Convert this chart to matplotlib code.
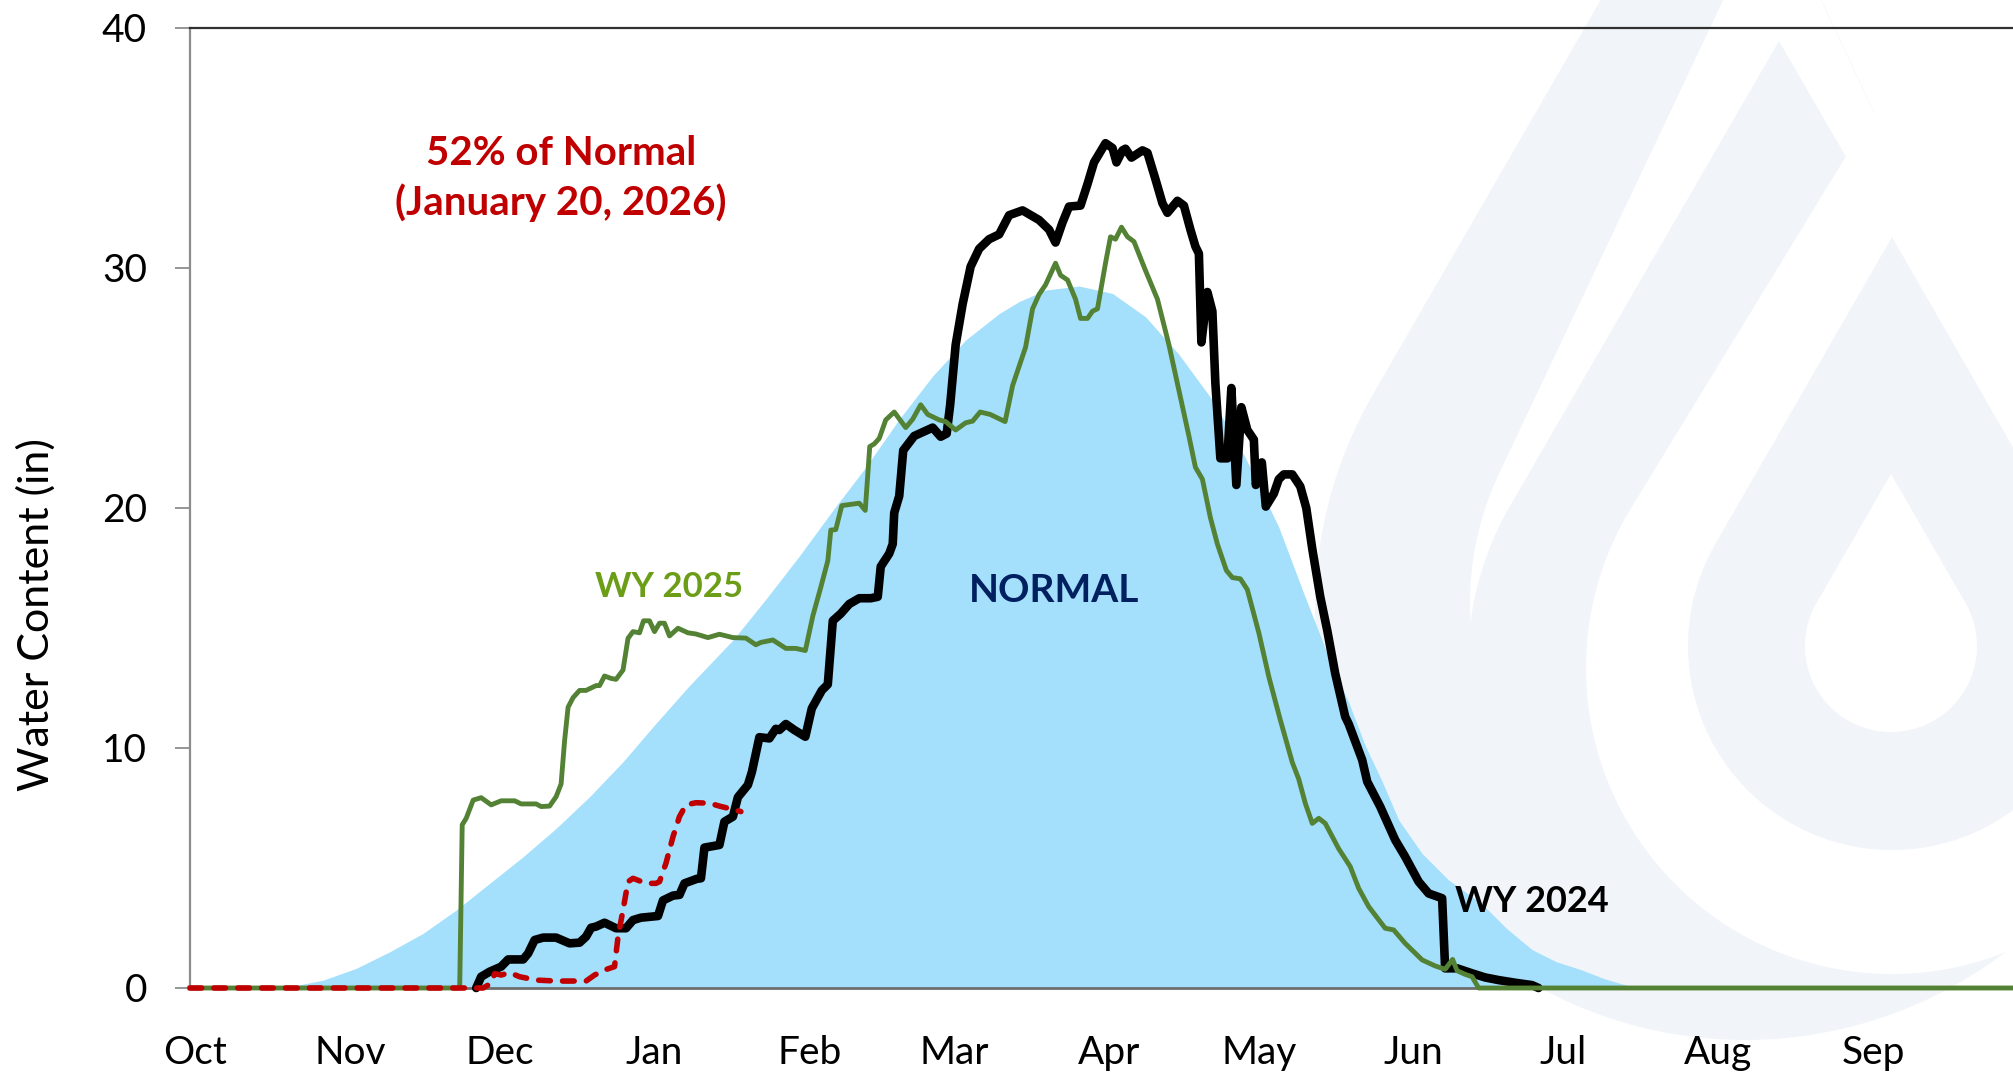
import numpy as np
import matplotlib
matplotlib.use("Agg")
import matplotlib.pyplot as plt
from matplotlib.patches import Polygon

# ---------------- data (x = day of water year, 0 = Oct 1) ----------------
month_labels = ["Oct", "Nov", "Dec", "Jan", "Feb", "Mar", "Apr", "May", "Jun", "Jul", "Aug", "Sep"]
month_lengths = [31, 30, 31, 31, 29, 31, 30, 31, 30, 31, 31, 30]
y_ticks = [0, 10, 20, 30, 40]

normal_day = [0, 15, 20, 26.7, 33.3, 40, 46.7, 53.3, 60, 66.7, 73.3, 80, 86.7, 93.3, 100,
              108.7, 115.3, 122, 128.7, 135.3, 142, 148.7, 155.3, 162, 166, 171.3, 178,
              184.7, 191.3, 198, 204.7, 211.3, 218, 222.7, 228.7, 232, 235.3, 238.7, 242,
              246.7, 252, 258.7, 263.5, 268.7, 273.5, 278.7, 283, 286.7, 290]
normal_swe = [0, 0, 0.05, 0.33, 0.82, 1.51, 2.28, 3.25, 4.36, 5.47, 6.65, 7.97, 9.43, 11.03, 12.6,
              14.5, 16.2, 18.0, 19.9, 21.7, 23.7, 25.5, 27.0, 28.1, 28.6, 29.08, 29.25,
              28.94, 27.97, 26.4, 24.5, 22.1, 19.2, 16.6, 13.4, 11.9, 10.1, 8.6, 7.0,
              5.6, 4.5, 3.5, 2.5, 1.6, 1.1, 0.75, 0.4, 0.17, 0]

wy2024_day = [57.3, 58.3, 60, 62.3, 63.7, 66.7, 67.7, 69, 70.7, 73.3, 76, 78, 79.3, 80.3, 81.3,
              83, 85.3, 87.3, 88.7, 90.3, 93.7, 94.7, 96.7, 98, 99, 101.5, 102.3, 103, 106,
              107, 108.7, 109.7, 111.7, 112.5, 114, 116, 117.3, 118, 119.3, 121, 123.2, 124.5,
              126.5, 127.7, 128.7, 130.3, 132, 134, 136.3, 137.7, 138.3, 140, 140.7, 141, 142,
              142.8, 145, 148.7, 150.3, 151.5, 152.2, 153.3, 154.7, 156.3, 158, 160, 162, 164,
              166.7, 170, 172, 173.3, 174.7, 176, 178.3, 179.7, 181, 183.3, 184.7, 185.5,
              186.7, 187.3, 188.5, 190.7, 191.7, 193.3, 194.7, 195.7, 197.7, 199, 200.3, 201.3,
              202, 202.5, 203.7, 204.7, 205.3, 206.3, 207.7, 208.5, 209.5, 210.5, 211.7, 213,
              213.4, 214.6, 215.4, 217, 218, 219, 220.7, 222.3, 223.5, 224.7, 226.3, 227.7,
              229.3, 231.3, 232, 234.7, 235.7, 238.3, 241.3, 243.3, 246, 248, 250.7, 251.3,
              253.7, 256.7, 259.3, 262, 265.3, 268.7, 270]
wy2024_swe = [0, 0.47, 0.68, 0.89, 1.19, 1.19, 1.44, 2.0, 2.1, 2.1, 1.86, 1.89, 2.14, 2.51, 2.56,
              2.72, 2.49, 2.49, 2.83, 2.93, 3.0, 3.65, 3.85, 3.88, 4.36, 4.55, 4.57, 5.85, 5.96,
              6.93, 7.14, 7.95, 8.46, 9.0, 10.45, 10.4, 10.8, 10.75, 11.0, 10.75, 10.47, 11.65,
              12.4, 12.65, 15.3, 15.6, 16.0, 16.24, 16.24, 16.3, 17.56, 18.1, 18.5, 19.8, 20.5,
              22.4, 23.0, 23.35, 22.97, 23.1, 24.3, 26.8, 28.5, 30.06, 30.8, 31.2, 31.4, 32.2,
              32.4, 32.0, 31.6, 31.06, 31.9, 32.56, 32.6, 33.5, 34.4, 35.2, 35.0, 34.4,
              34.9, 34.97, 34.6, 34.9, 34.8, 33.7, 32.7, 32.3, 32.8, 32.6, 31.6, 30.9,
              30.6, 26.9, 29.0, 28.2, 25.2, 22.07, 22.07, 25.0, 20.96, 24.2, 23.25, 22.85,
              20.96, 21.9, 20.06, 20.6, 21.2, 21.4, 21.4, 20.9, 20.0, 18.3, 16.3, 14.9,
              13.1, 11.3, 11.0, 9.5, 8.6, 7.56, 6.17, 5.47, 4.43, 3.94, 3.74, 0.82,
              0.82, 0.61, 0.44, 0.33, 0.22, 0.12, 0]

wy2025_day = [0, 54, 54.5, 55.3, 56.7, 58.3, 60.3, 62.3, 65, 66.3, 69.3, 70.3, 72, 73.3, 74.3,
              75, 75.7, 76.7, 78, 79.3, 81.3, 82, 83, 84.3, 85.3, 86.7, 87.7, 88.7, 90, 90.8,
              92, 93, 94, 95, 96, 97.7, 99.7, 101.3, 103.7, 106, 108.7, 111.3, 113.3, 114.3,
              116.7, 119.3, 121.3, 123.2, 124.7, 126.3, 127.7, 128.3, 129.3, 130.5, 134, 135.2,
              136.1, 137, 138, 139.3, 141, 143.3, 144.7, 146.3, 147.7, 150, 151.3, 153.3, 155.3,
              156.7, 158.2, 160.2, 163.2, 163.7, 164.7, 167.3, 168.7, 170, 171.3, 173.3, 174.3,
              175.7, 177.3, 178.3, 179.7, 180.7, 181.7, 183.3, 184.3, 185.3, 186.5, 187.7, 189,
              191.3, 193.7, 196, 198, 200, 201.3, 202.7, 204.3, 205.7, 207.5, 208.7, 210.3,
              211.7, 214, 216, 218.3, 220.7, 222, 223.3, 224.7, 226, 227.3, 230, 232.3, 234,
              236, 239.3, 241, 243.3, 246.7, 249.3, 251.3, 252.8, 253.7, 255.3, 256.7, 258, 365]
wy2025_swe = [0, 0, 6.8, 7.07, 7.83, 7.93, 7.63, 7.8, 7.8, 7.67, 7.67, 7.56, 7.58, 7.97, 8.5,
              10.3, 11.7, 12.1, 12.4, 12.4, 12.6, 12.6, 13.0, 12.9, 12.86, 13.25, 14.57, 14.85, 14.8, 15.3,
              15.3, 14.85, 15.2, 15.2, 14.67, 14.99, 14.8, 14.75, 14.6, 14.74, 14.6, 14.58, 14.3, 14.4,
              14.5, 14.15, 14.15, 14.06, 15.5, 16.7, 17.8, 19.08, 19.1, 20.1, 20.2, 19.9,
              22.56, 22.67, 22.9, 23.67, 24.0, 23.35, 23.7, 24.3, 23.9, 23.67, 23.6, 23.25, 23.55,
              23.62, 24.0, 23.9, 23.6, 24.1, 25.1, 26.7, 28.3, 28.9, 29.3, 30.2, 29.7,
              29.5, 28.7, 27.9, 27.9, 28.2, 28.3, 30.2, 31.3, 31.2, 31.7, 31.3, 31.1,
              29.9, 28.7, 26.8, 24.9, 23.0, 21.7, 21.2, 19.6, 18.5, 17.4, 17.1, 17.05,
              16.6, 14.8, 12.97, 11.17, 9.4, 8.7, 7.7, 6.86, 7.07, 6.86, 5.8, 5.06, 4.15,
              3.39, 2.49, 2.42, 1.86, 1.17, 0.92, 0.78, 1.19, 0.72, 0.57, 0.47, 0, 0]

wy2026_day = [0, 58.7, 60.3, 61, 62.3, 64, 66, 69.3, 73.3, 79.3, 81, 83, 85, 85.7, 86.7, 87.7,
              88.7, 91.3, 93.3, 94, 95.3, 96.7, 98, 99.3, 101.3, 104, 106, 108.7, 110.3]
wy2026_swe = [0, 0, 0.2, 0.6, 0.54, 0.64, 0.47, 0.33, 0.29, 0.29, 0.54, 0.75, 0.89, 2.14, 3.25, 4.43,
              4.57, 4.36, 4.36, 4.43, 5.2, 6.3, 7.14, 7.63, 7.72, 7.7, 7.58, 7.44, 7.35]

# ---------------- figure ----------------
W, H = 2013, 1077
fig = plt.figure(figsize=(W / 100, H / 100), dpi=100)
fig.patch.set_facecolor("white")

# faint background logo (decoration), in figure pixel coordinates
bg = fig.add_axes([0, 0, 1, 1], zorder=0)
bg.set_xlim(0, W)
bg.set_ylim(H, 0)
bg.axis("off")


def teardrop(tip_x, tip_y, cy, r, n=160):
    d = cy - tip_y
    beta = np.arccos(r / d)
    th = np.linspace(-np.pi / 2 + beta, 3 * np.pi / 2 - beta, n)
    xs = tip_x + r * np.cos(th)
    ys = cy + r * np.sin(th)
    return np.vstack([[tip_x, tip_y], np.column_stack([xs, ys])])


faint = "#f1f5f9"
logo_layers = [
    (1745, -250, 610, 430, faint),
    (1772, -103, 603, 302, "white"),
    (1779, 41, 662, 311, faint),
    (1892, 81, 668, 306, "white"),
    (1892, 237, 646, 204, faint),
    (1891, 474, 646, 86, "white"),
]
# keep the outer band from peeking out to the right of the first white drop
clip_poly = Polygon([(0, -400), (1632, -400), (2389, 1200), (0, 1200)], closed=True,
                    facecolor="none", edgecolor="none")
bg.add_patch(clip_poly)
for i, (tx, ty, cy, r, col) in enumerate(logo_layers):
    p = Polygon(teardrop(tx, ty, cy, r), closed=True, facecolor=col, edgecolor="none")
    bg.add_patch(p)
    if i == 0:
        p.set_clip_path(clip_poly)

left, bottom_px, top_px = 190, 988, 28
ax = fig.add_axes([left / W, 1 - bottom_px / H, 1 - left / W, (bottom_px - top_px) / H], zorder=1)
ax.set_facecolor("none")

ax.fill_between(normal_day, 0, normal_swe, color="#a4dffc", linewidth=0, zorder=1)
ax.plot(wy2024_day, wy2024_swe, color="black", lw=6.2, solid_joinstyle="round",
        solid_capstyle="round", zorder=3, clip_on=False)
ax.plot(wy2025_day, wy2025_swe, color="#548235", lw=3.5, solid_joinstyle="round", zorder=4, clip_on=False)
ax.plot(wy2026_day, wy2026_swe, color="#c00000", lw=4.0, dashes=(2.1, 2.2),
        dash_capstyle="round", zorder=5, clip_on=False)

ax.set_xlim(0, 365)
ax.set_ylim(0, 40)

starts = np.concatenate([[1], 1 + np.cumsum(month_lengths[:-1])])
ax.set_xticks(starts)
ax.set_xticklabels(month_labels)
ax.set_yticks(y_ticks)

for lab in ax.get_xticklabels() + ax.get_yticklabels():
    lab.set_fontfamily(["Lato", "DejaVu Sans"])
    lab.set_fontsize(28)
ax.tick_params(axis="x", length=0, pad=34)
ax.tick_params(axis="y", length=11, width=1.3, color="#8c8c8c", direction="out", pad=20)

ax.spines["right"].set_visible(False)
ax.spines["left"].set_color("#8c8c8c")
ax.spines["left"].set_linewidth(1.6)
ax.spines["top"].set_color("#303030")
ax.spines["top"].set_linewidth(1.6)
ax.spines["bottom"].set_color("#6e6e6e")
ax.spines["bottom"].set_linewidth(2.0)

ax.text(-0.0845, 0.389, "Water Content (in)", transform=ax.transAxes, rotation=90,
        ha="center", va="center", family=["Lato", "DejaVu Sans"], size=31)

bold = dict(family=["Lato", "DejaVu Sans"], weight="bold")
ax.text(74.4, 34.29, "52% of Normal", color="#c00000", ha="center", va="baseline", size=29, zorder=6, **bold)
ax.text(74.2, 32.2, "(January 20, 2026)", color="#c00000", ha="center", va="baseline", size=29, zorder=6, **bold)
ax.text(96, 16.3, "WY 2025", color="#6b9d17", ha="center", va="baseline", size=25, zorder=6, **bold)
ax.text(173, 16.1, "NORMAL", color="#002060", ha="center", va="baseline", size=28, zorder=6, **bold)
ax.text(253.3, 3.18, "WY 2024", color="black", ha="left", va="baseline", size=26, zorder=6, **bold)

fig.savefig("out.png", dpi=100, facecolor="white")
